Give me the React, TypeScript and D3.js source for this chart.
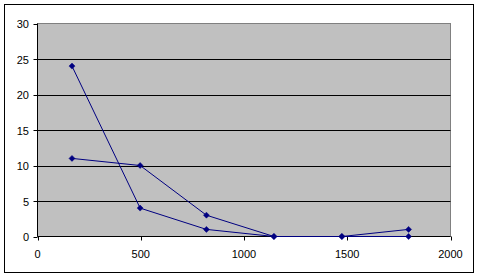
import React from "react";
import * as d3 from "d3";

const xValues = [167, 497, 818, 1145, 1474, 1797];
const seriesA = [24, 4, 1, 0, 0, 1];
const seriesB = [11, 10, 3, 0, 0, 0];
const xTicks = [0, 500, 1000, 1500, 2000];
const yTicks = [0, 5, 10, 15, 20, 25, 30];

export default function App() {
  const W = 480, H = 278;
  const x = d3.scaleLinear().domain([0, 2000]).range([37.5, 450.5]);
  const y = d3.scaleLinear().domain([0, 30]).range([236.5, 23.5]);
  const line = d3
    .line<[number, number]>()
    .x((d) => x(d[0]))
    .y((d) => y(d[1]));
  const series = [seriesA, seriesB];
  const font = "'Liberation Sans', Arial, sans-serif";
  const diamond = (cx: number, cy: number) =>
    `M${cx},${cy - 3}L${cx + 3},${cy}L${cx},${cy + 3}L${cx - 3},${cy}Z`;
  const snap = (v: number) => Math.round(v) + 0.5;
  return (
    <svg
      width={W}
      height={H}
      style={{ position: "absolute", left: 0, top: 0, background: "#fff" }}
    >
      <rect x={4.5} y={4.5} width={469} height={268} fill="#fff" stroke="#000" strokeWidth={1} />
      <rect
        x={x(0)}
        y={y(30)}
        width={x(2000) - x(0)}
        height={y(0) - y(30)}
        fill="#C0C0C0"
        stroke="#808080"
        strokeWidth={1}
      />
      {yTicks.filter((t) => t > 0 && t < 30).map((t) => (
        <line key={"g" + t} x1={x(0)} x2={x(2000)} y1={snap(y(t))} y2={snap(y(t))} stroke="#000" strokeWidth={1} />
      ))}
      <line x1={x(0)} x2={x(0)} y1={y(30)} y2={y(0)} stroke="#000" />
      <line x1={x(0)} x2={x(2000)} y1={y(0)} y2={y(0)} stroke="#000" />
      {yTicks.map((t) => (
        <g key={"y" + t}>
          <line x1={x(0) - 4} x2={x(0)} y1={snap(y(t))} y2={snap(y(t))} stroke="#000" />
          <text x={29} y={y(t) + 4.5} textAnchor="end" fontFamily={font} fontSize={11} fill="#000">
            {t}
          </text>
        </g>
      ))}
      {xTicks.map((t) => (
        <g key={"x" + t}>
          <line x1={snap(x(t))} x2={snap(x(t))} y1={y(0)} y2={y(0) + 4} stroke="#000" />
          <text x={x(t)} y={258} textAnchor="middle" fontFamily={font} fontSize={11} fill="#000">
            {t}
          </text>
        </g>
      ))}
      {series.map((s, i) => {
        const pts = xValues.map((xv, j) => [xv, s[j]] as [number, number]);
        return (
          <g key={"s" + i}>
            <path d={line(pts) || ""} fill="none" stroke="#000080" strokeWidth={1} />
            {pts.map((p, j) => (
              <path key={j} d={diamond(x(p[0]), y(p[1]))} fill="#000080" stroke="#000080" strokeWidth={0.5} />
            ))}
          </g>
        );
      })}
    </svg>
  );
}
